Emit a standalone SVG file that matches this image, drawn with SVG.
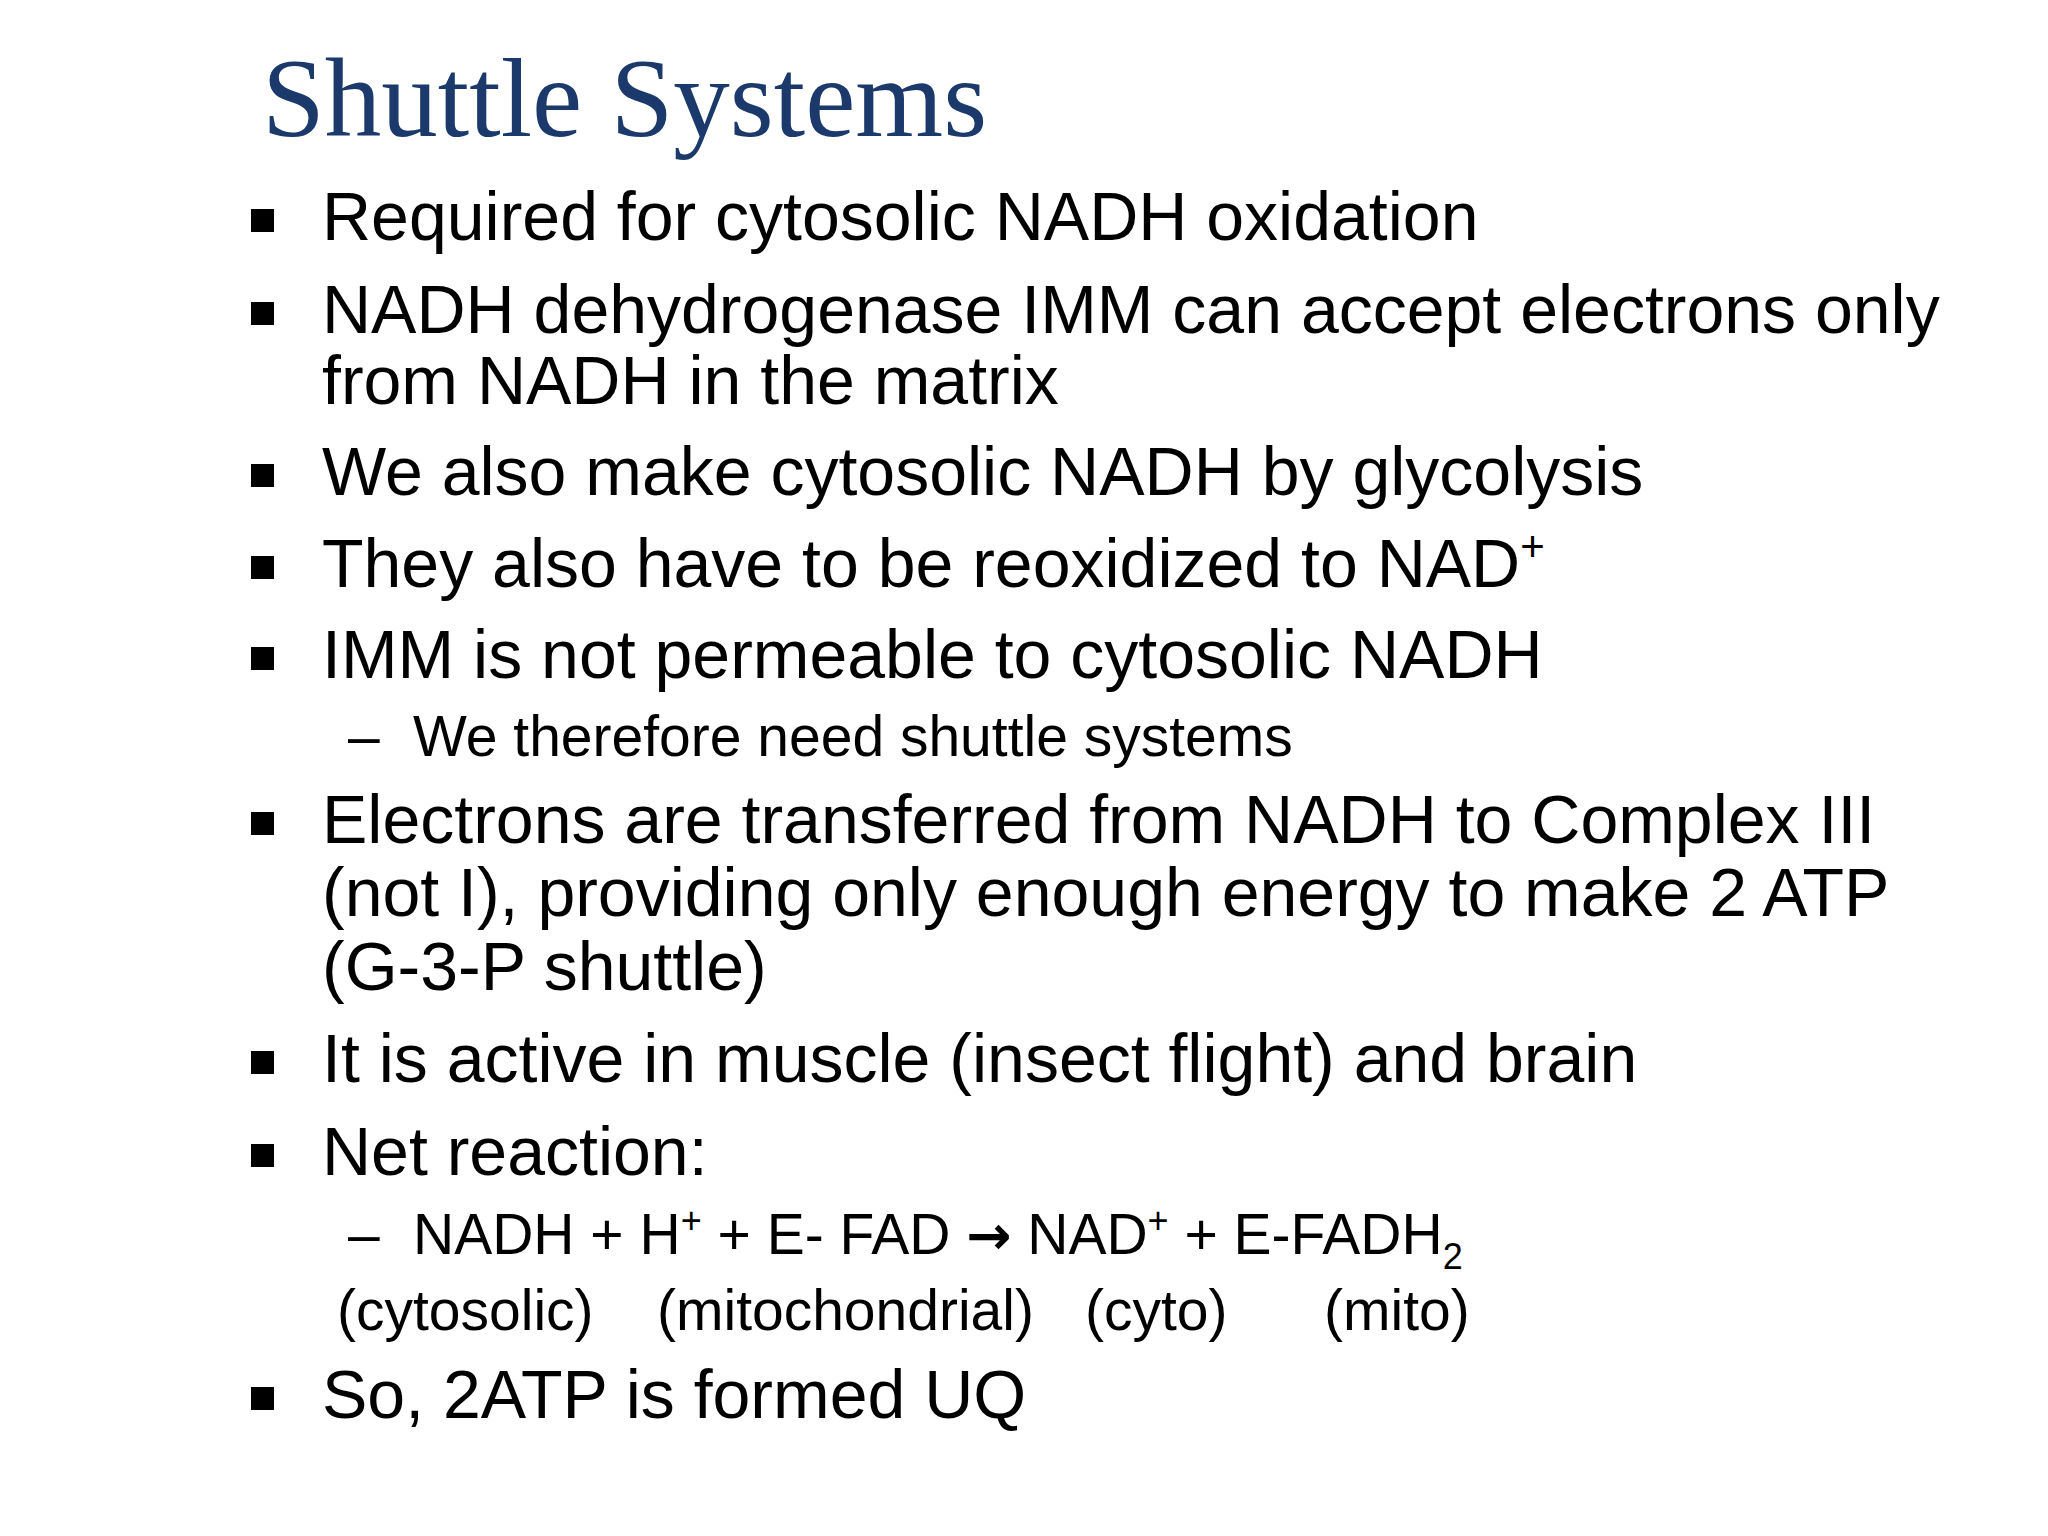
<svg xmlns="http://www.w3.org/2000/svg" width="2048" height="1536" viewBox="0 0 2048 1536">
<style>
.t{font-family:"Liberation Sans",Arial,sans-serif;font-size:68px;fill:#000}
.s{font-family:"Liberation Sans",Arial,sans-serif;font-size:57px;fill:#000}
.b{fill:#000}
</style>
<rect width="2048" height="1536" fill="#fff"/>
<text x="262" y="136" font-family="'Liberation Serif','Times New Roman',serif" font-size="113" fill="#1b3a6b">Shuttle Systems</text>
<g class="b">
<rect x="251" y="209" width="23" height="23"/>
<rect x="251" y="302" width="23" height="23"/>
<rect x="251" y="464" width="23" height="23"/>
<rect x="251" y="556" width="23" height="23"/>
<rect x="251" y="647" width="23" height="23"/>
<rect x="251" y="812" width="23" height="23"/>
<rect x="251" y="1051" width="23" height="23"/>
<rect x="251" y="1144" width="23" height="23"/>
<rect x="251" y="1387" width="23" height="23"/>
</g>
<text class="t" x="322" y="240">Required for cytosolic NADH oxidation</text>
<text class="t" x="322" y="333">NADH dehydrogenase IMM can accept electrons only</text>
<text class="t" x="322" y="404">from NADH in the matrix</text>
<text class="t" x="322" y="495">We also make cytosolic NADH by glycolysis</text>
<text class="t" x="322" y="587">They also have to be reoxidized to NAD<tspan font-size="42" dy="-26">+</tspan></text>
<text class="t" x="322" y="678">IMM is not permeable to cytosolic NADH</text>
<text class="s" x="348" y="756">–</text>
<text class="s" x="413" y="756">We therefore need shuttle systems</text>
<text class="t" x="322" y="843">Electrons are transferred from NADH to Complex III</text>
<text class="t" x="322" y="916">(not I), providing only enough energy to make 2 ATP</text>
<text class="t" x="322" y="990">(G-3-P shuttle)</text>
<text class="t" x="322" y="1082">It is active in muscle (insect flight) and brain</text>
<text class="t" x="322" y="1175">Net reaction:</text>
<text class="s" x="348" y="1254">–</text>
<text class="s" x="413" y="1254">NADH + H<tspan font-size="36" dy="-21">+</tspan><tspan dy="21"> + E- FAD </tspan><tspan font-family="'DejaVu Sans',sans-serif" font-weight="bold" font-size="54">→</tspan> NAD<tspan font-size="36" dy="-21">+</tspan><tspan dy="21"> + E-FADH</tspan><tspan font-size="36" dy="15">2</tspan></text>
<text class="s" x="337" y="1330">(cytosolic)</text>
<text class="s" x="657" y="1330">(mitochondrial)</text>
<text class="s" x="1085" y="1330">(cyto)</text>
<text class="s" x="1324" y="1330">(mito)</text>
<text class="t" x="322" y="1418">So, 2ATP is formed UQ</text>
</svg>
